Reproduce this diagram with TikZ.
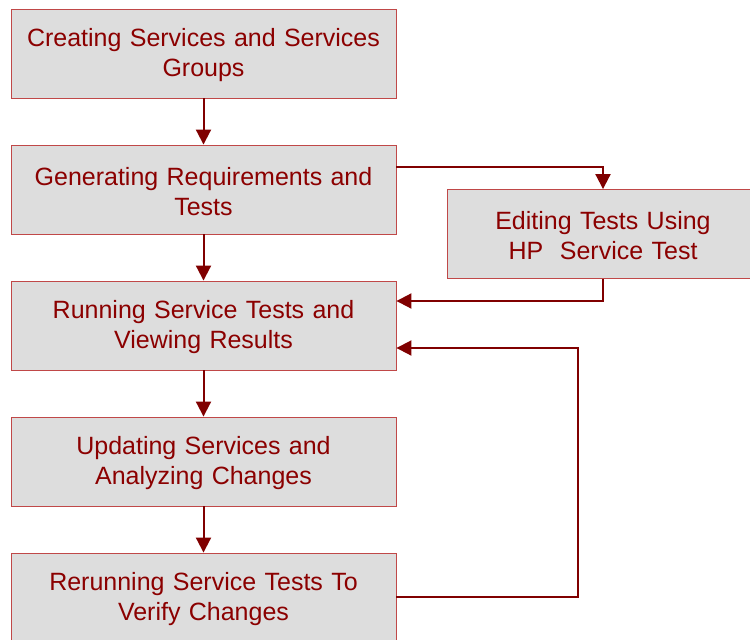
\documentclass[tikz,border=0pt]{standalone}
\usepackage{fontspec}
\setmainfont{Liberation Sans}
\usetikzlibrary{arrows.meta}
\definecolor{txtred}{HTML}{8B0000}
\definecolor{bordred}{HTML}{C04848}
\definecolor{boxgray}{HTML}{DDDDDD}
\definecolor{linered}{HTML}{800000}
\newcommand{\lowtext}[2]{\raisebox{-2pt}[\height][\depth]{\parbox{#1}{\centering #2}}}
\begin{document}
\begin{tikzpicture}[x=1pt,y=-1pt,
  stepbox/.style={draw=bordred, line width=0.9pt, fill=boxgray, text=txtred,
    font=\fontsize{25}{30}\selectfont, align=center, inner sep=0pt,
    minimum width=385pt, minimum height=89pt, text width=370pt},
  sidebox/.style={stepbox, minimum width=312pt, text width=300pt},
  conn/.style={draw=linered, line width=2pt,
    -{Triangle[length=15pt,width=15pt]}}]
\useasboundingbox (0,0) rectangle (750,640);
\node[stepbox] (b1) at (203.5,53.5) {\lowtext{370pt}{Creating Services and Services\\Groups}};
\node[stepbox] (b2) at (203.5,189.5) {\lowtext{370pt}{Generating Requirements and\\Tests}};
\node[stepbox] (b3) at (203.5,325.5) {\lowtext{370pt}{Running Service Tests and\\Viewing Results}};
\node[stepbox] (b4) at (203.5,461.5) {\lowtext{370pt}{Updating Services and\\Analyzing Changes}};
\node[stepbox] (b5) at (203.5,597.5) {\lowtext{370pt}{Rerunning Service Tests To\\Verify Changes}};
\node[sidebox] (s) at (603,234) {\lowtext{300pt}{Editing Tests Using\\HP\ \ Service Test}};
\coordinate (c1) at (603,167);
\coordinate (c2) at (603,301);
\coordinate (c3) at (578,597);
\coordinate (c4) at (578,348);
\draw[conn] (b1) -- (b2);
\draw[conn] (b2) -- (b3);
\draw[conn] (b3) -- (b4);
\draw[conn] (b4) -- (b5);
\draw[conn] (b2.east |- c1) -- (c1) -- (c1 |- s.north);
\draw[conn] (c2 |- s.south) -- (c2) -- (b3.east |- c2);
\draw[conn] (b5.east |- c3) -- (c3) -- (c4) -- (b3.east |- c4);
\end{tikzpicture}
\end{document}
